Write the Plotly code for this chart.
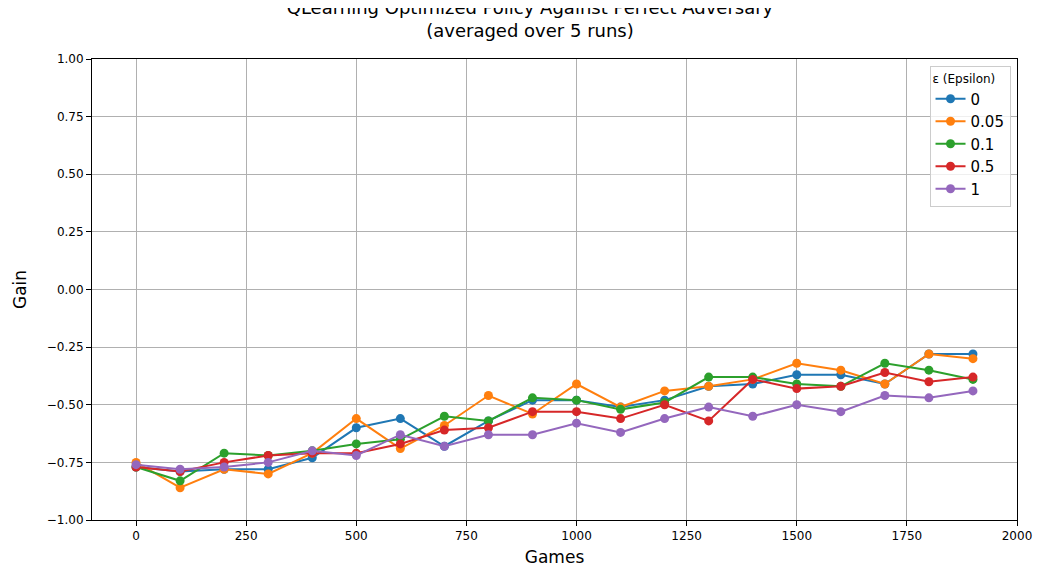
import plotly.graph_objects as go

games = list(range(0, 2000, 100))
eps_labels = ["0", "0.05", "0.1", "0.5", "1"]
gain_0 = [-0.77, -0.79, -0.78, -0.78, -0.73, -0.60, -0.56, -0.68, -0.57, -0.48,
          -0.48, -0.51, -0.48, -0.42, -0.41, -0.37, -0.37, -0.41, -0.28, -0.28]
gain_005 = [-0.75, -0.86, -0.78, -0.80, -0.71, -0.56, -0.69, -0.59, -0.46, -0.54,
            -0.41, -0.51, -0.44, -0.42, -0.39, -0.32, -0.35, -0.41, -0.28, -0.30]
gain_01 = [-0.77, -0.83, -0.71, -0.72, -0.70, -0.67, -0.65, -0.55, -0.57, -0.47,
           -0.48, -0.52, -0.49, -0.38, -0.38, -0.41, -0.42, -0.32, -0.35, -0.39]
gain_05 = [-0.77, -0.79, -0.75, -0.72, -0.71, -0.71, -0.67, -0.61, -0.60, -0.53,
           -0.53, -0.56, -0.50, -0.57, -0.39, -0.43, -0.42, -0.36, -0.40, -0.38]
gain_1 = [-0.76, -0.78, -0.77, -0.75, -0.70, -0.72, -0.63, -0.68, -0.63, -0.63,
          -0.58, -0.62, -0.56, -0.51, -0.55, -0.50, -0.53, -0.46, -0.47, -0.44]

series = [gain_0, gain_005, gain_01, gain_05, gain_1]
colors = ["#1f77b4", "#ff7f0e", "#2ca02c", "#d62728", "#9467bd"]

fig = go.Figure()
for name, vals, col in zip(eps_labels, series, colors):
    fig.add_trace(go.Scatter(
        name=name, x=games, y=vals, mode="lines+markers",
        line={"color": col, "width": 2}, marker={"size": 9, "color": col},
    ))

axis_style = dict(showgrid=True, gridcolor="#b0b0b0", showline=True, linecolor="black",
                  mirror=True, ticks="outside", tickcolor="black", zeroline=False,
                  tickfont=dict(size=12, color="black"))
fig.update_layout(
    width=1044, height=577,
    paper_bgcolor="white", plot_bgcolor="white",
    font=dict(family="DejaVu Sans", color="black"),
    title=dict(text="QLearning Optimized Policy Against Perfect Adversary<br>(averaged over 5 runs)",
               x=0.5, xanchor="center", y=0.99, yanchor="top", font=dict(size=18)),
    margin=dict(l=79, r=35, t=51, b=65),
    legend=dict(title=dict(text="ε (Epsilon)", font=dict(size=12)), x=0.993, y=0.985,
                xanchor="right", yanchor="top", bordercolor="#cccccc", borderwidth=1,
                font=dict(size=15), bgcolor="rgba(255,255,255,0.8)"),
    showlegend=True,
)
fig.update_xaxes(title=dict(text="Games", font=dict(size=17), standoff=8),
                 range=[-100, 2000], tickvals=list(range(0, 2001, 250)), **axis_style)
fig.update_yaxes(title=dict(text="Gain", font=dict(size=17)),
                 range=[-1, 1], tickvals=[-1, -0.75, -0.5, -0.25, 0, 0.25, 0.5, 0.75, 1],
                 tickformat=".2f", **axis_style)

fig.write_html("out.html")
